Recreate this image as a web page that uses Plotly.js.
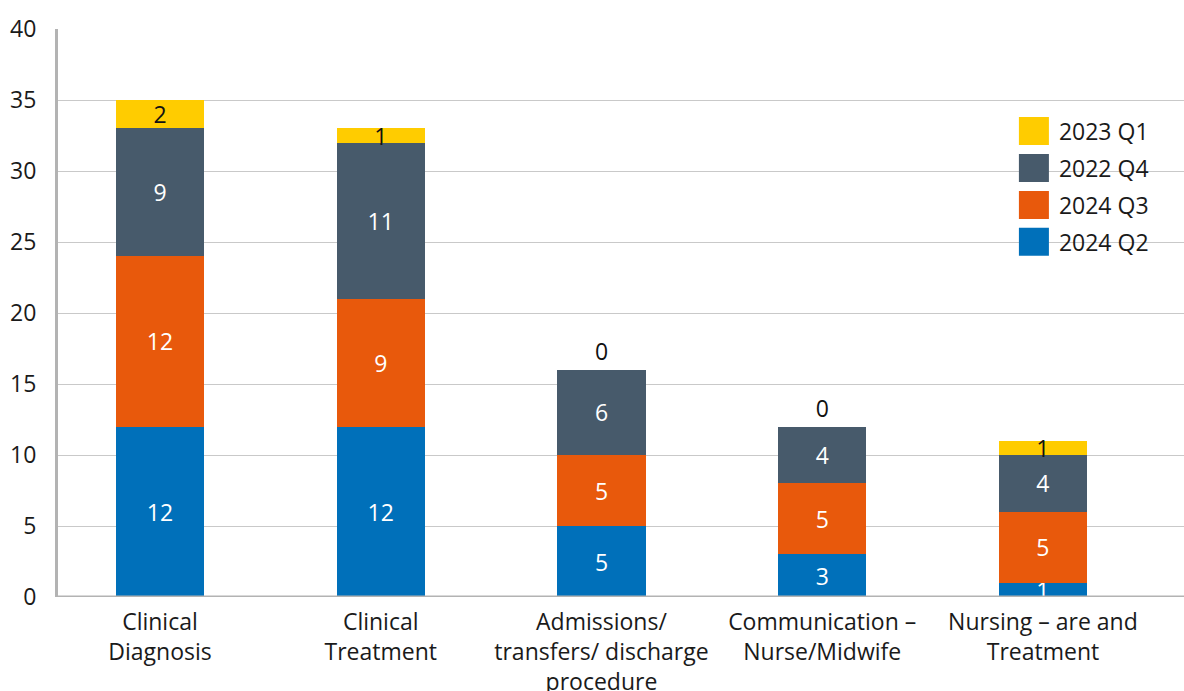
<!DOCTYPE html>
<html>
<head>
<meta charset="utf-8">
<script src="https://cdn.plot.ly/plotly-3.0.1.min.js"></script>
<style>
  html, body { margin: 0; padding: 0; background: #fff; }
  #chart { width: 1184px; height: 691px; }
</style>
</head>
<body>
<div id="chart"></div>
<script>
// Complaint categories along the x axis
const categories = [
  "Clinical<br>Diagnosis",
  "Clinical<br>Treatment",
  "Admissions/<br>transfers/ discharge<br>procedure",
  "Communication –<br>Nurse/Midwife",
  "Nursing – are and<br>Treatment"
];

// Quarterly counts, stacked bottom to top
const q2_2024 = [12, 12, 5, 3, 1];
const q3_2024 = [12, 9, 5, 5, 5];
const q4_2022 = [9, 11, 6, 4, 4];
const q1_2023 = [2, 1, 0, 0, 1];

const seriesNames = ["2024 Q2", "2024 Q3", "2022 Q4", "2023 Q1"];
const seriesColors = ["#0070BA", "#E8590C", "#475A6B", "#FFCC00"];
const seriesValues = [q2_2024, q3_2024, q4_2022, q1_2023];

const FONT = "'Open Sans', 'Noto Sans', sans-serif";
const FS = 23;

const traces = seriesValues.map((vals, i) => {
  const isTop = i === seriesValues.length - 1;
  return {
    type: "bar",
    name: seriesNames[i],
    legendgroup: "g" + i,
    legendrank: 1000 - i,   // top of the stack listed first
    x: categories,
    y: vals,
    width: 0.4,
    marker: { color: seriesColors[i], line: { width: 0 } },
    text: vals.map(String),
    texttemplate: "%{text}",
    textangle: 0,
    textposition: vals.map(v => (isTop && v === 0) ? "outside" : "inside"),
    insidetextanchor: "middle",
    constraintext: "none",
    cliponaxis: false,
    insidetextfont: { family: FONT, size: FS, color: isTop ? "#111" : "#ffffff" },
    outsidetextfont: { family: FONT, size: FS, color: "#111" },
    hoverinfo: "x+y+name"
  };
});

const layout = {
  width: 1184,
  height: 691,
  margin: { l: 58, r: 0, t: 29, b: 94 },
  paper_bgcolor: "#ffffff",
  plot_bgcolor: "#ffffff",
  barmode: "stack",
  font: { family: FONT, size: FS, color: "#1a1a1a" },
  showlegend: true,
  legend: {
    traceorder: "grouped",
    x: 0.8445,
    y: 0.858,
    xanchor: "left",
    yanchor: "top",
    font: { family: FONT, size: FS, color: "#1a1a1a" },
    bgcolor: "rgba(0,0,0,0)",
    itemwidth: 40,
    tracegroupgap: 4
  },
  xaxis: {
    type: "category",
    range: [-0.462, 4.639],
    showgrid: false,
    showline: false,
    ticks: "",
    ticklabelstandoff: 9,
    tickfont: { family: FONT, size: FS, color: "#1a1a1a" },
    fixedrange: true
  },
  yaxis: {
    range: [0, 40],
    dtick: 5,
    showgrid: true,
    gridcolor: "#c9c9c9",
    gridwidth: 1,
    zeroline: false,
    showline: true,
    linecolor: "#b3b3b3",
    linewidth: 3,
    ticks: "",
    ticklabelstandoff: 14,
    tickfont: { family: FONT, size: FS, color: "#1a1a1a" },
    fixedrange: true
  },
  shapes: [{
    type: "line", xref: "paper", yref: "y",
    x0: 0, x1: 1, y0: 0, y1: 0,
    line: { color: "#b3b3b3", width: 3 }
  }]
};

Plotly.newPlot("chart", traces, layout, { displayModeBar: false, staticPlot: true }).then(gd => {
  // Enlarge the legend swatches to square blocks
  gd.querySelectorAll(".legend .legendpoints path").forEach(p => {
    p.setAttribute("d", "M15,14H-15V-14H15Z");
  });
});
</script>
</body>
</html>
